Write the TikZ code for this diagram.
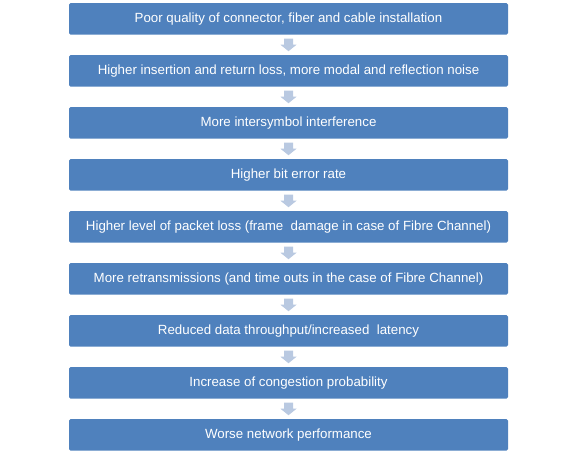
\documentclass[tikz,border=0pt]{standalone}
\usepackage{fontspec}
\setmainfont{Liberation Sans}
\usetikzlibrary{positioning,calc}
\definecolor{boxblue}{HTML}{4F81BD}
\definecolor{arrowblue}{HTML}{B9C9E1}
\tikzset{
  stepbox/.style={fill=boxblue, draw=none, rounded corners=1.5pt, minimum width=439pt, minimum height=31.5pt, inner sep=0pt, text=white, font=\fontsize{13.3}{15}\selectfont},
  downarrow/.style={fill=arrowblue, draw=none}
}
\begin{document}
\begin{tikzpicture}[x=1pt,y=1pt]
\useasboundingbox (0,0) rectangle (576,-454);
\foreach \i/\t in {1/{Poor quality of connector, fiber and cable installation},
                   2/{Higher insertion and return loss, more modal and reflection noise},
                   3/{More intersymbol interference},
                   4/{Higher bit error rate},
                   5/{Higher level of packet loss (frame\ \ damage in case of Fibre Channel)},
                   6/{More retransmissions (and time outs in the case of Fibre Channel)},
                   7/{Reduced data throughput/increased\ \ latency},
                   8/{Increase of congestion probability},
                   9/{Worse network performance}} {
  \node[stepbox] (b\i) at (288.5, {-18.8-52*(\i-1)}) {\t};
}
\foreach \i in {1,...,8} {
  \path (b\i.south) ++(0,-4) coordinate (a\i);
  \fill[downarrow] ($(a\i)+(-4.5,0)$) -- ($(a\i)+(4.5,0)$) -- ($(a\i)+(4.5,-6)$) -- ($(a\i)+(8,-6)$) -- ($(a\i)+(0,-12.5)$) -- ($(a\i)+(-8,-6)$) -- ($(a\i)+(-4.5,-6)$) -- cycle;
}
\end{tikzpicture}
\end{document}
